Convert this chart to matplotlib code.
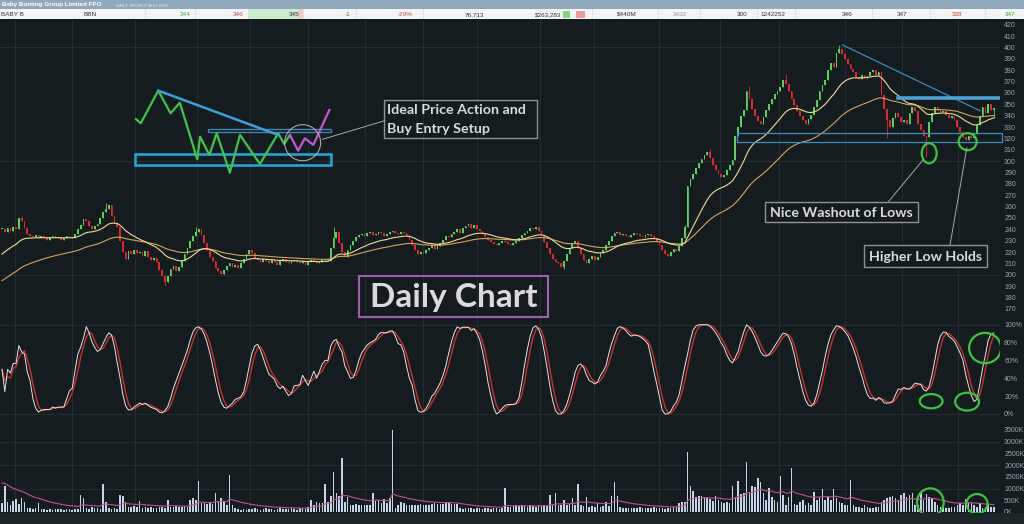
import numpy as np
import pandas as pd
import matplotlib
matplotlib.use("Agg")
import matplotlib.pyplot as plt
from matplotlib.patches import Rectangle, Ellipse

# ---------------- data ----------------
closes = [
    240, 238, 241, 239, 242, 240, 250, 247, 241, 236, 234,
    233, 235, 232, 234, 233, 231, 233, 234, 232, 233, 231, 232, 234, 233, 232,
    236, 240, 244, 249, 247,
    243, 240, 243, 245,
    250, 255, 258, 261,
    252, 246, 242,
    230, 220, 214,
    221, 218, 222, 219, 220, 217, 221,
    216, 213, 215, 211,
    204, 199, 194, 199,
    205, 208, 203, 207,
    212, 218, 224,
    230, 234, 238, 240,
    235, 228, 222, 216, 212,
    206, 203, 201, 204,
    208, 210, 207, 209, 206, 210,
    214, 218, 222, 219,
    215, 213, 211, 214, 212, 210, 213, 211, 209, 212, 214, 211, 210, 212,
    213, 211, 210, 212, 209, 211, 213, 212, 210, 211, 213, 214, 212,
    224, 232, 238,
    228, 220, 216, 222,
    226, 230, 233, 235,
    236, 234, 237, 238, 235, 236, 238, 237, 234, 236, 238, 239, 237, 236, 238, 237, 235,
    231, 226, 222, 218, 220, 219,
    222, 224, 226, 223, 225,
    228, 231, 234, 233, 236, 238, 240, 237, 241,
    243, 245, 241, 244, 240, 239,
    236, 233, 231, 229, 227, 226, 228, 230, 229, 227, 226, 228, 230,
    232, 235, 237, 239, 241, 240, 242, 239,
    235, 229, 224, 218, 214, 211, 210,
    207, 212,
    218, 224, 228, 230,
    224, 218, 213, 210,
    214, 217, 213, 216, 219,
    222, 226, 230, 234, 237,
    238, 235, 236, 234, 233, 235, 237, 236, 234, 233, 235, 236, 234, 232,
    229, 226, 222, 218, 217,
    220, 223, 221, 225,
    232, 242,
    278, 284,
    289, 294, 298,
    302, 305, 308, 303,
    297, 292, 289, 286, 288,
    292, 297, 301,
    322, 330,
    340, 345,
    362, 355,
    346, 340, 335, 333,
    339, 345,
    350, 355, 359, 362, 365,
    371, 368,
    362, 355, 349, 344, 340, 336, 333, 337,
    341, 348, 354,
    362, 367, 371,
    380, 386, 383,
    395, 399,
    394, 390, 385, 381,
    378, 374, 372, 376, 373,
    375, 378, 380, 376, 378,
    358, 346,
    336, 330,
    338, 342, 339,
    334, 336, 333,
    342, 348, 344,
    333, 327, 322,
    321,
    334, 342, 348,
    345, 343, 344,
    341, 338, 340, 336,
    330, 326, 321,
    319, 322, 320, 324,
    332, 340,
    348, 342, 350, 345, 347,
]
first_open = 240

volumes_k = [
    370, 1090, 420, 300, 480, 550, 350, 590, 440, 160,
    150, 130, 170, 400, 120, 110, 100, 140, 90, 120,
    110, 130, 95, 120, 140, 100, 110, 130, 730, 590,
    160, 140, 230, 150, 170, 130, 1190, 440, 160, 140,
    150, 130, 730, 690, 440, 230, 200, 250, 230, 490,
    180, 200, 160, 220, 190, 170, 230, 200, 180, 515,
    230, 210, 240, 220, 200, 250, 230, 515, 590, 520,
    1340, 370, 380, 350, 370, 360, 830, 440, 590, 440,
    300, 1570, 300, 150, 120, 100, 140, 90, 110, 130,
    150, 120, 100, 140, 160, 130, 110, 90, 120, 150,
    140, 110, 130, 160, 120, 100, 150, 170, 140, 230,
    515, 300, 440, 370, 400, 1200, 440, 690, 1720, 830,
    700, 2300, 440, 630, 300, 280, 320, 300, 290, 310,
    300, 280, 800, 490, 500, 370, 540, 400, 590, 3490,
    160, 300, 440, 370, 300, 280, 310, 290, 300, 320,
    280, 300, 310, 360, 370, 350, 330, 340, 440, 400,
    360, 340, 320, 160, 140, 170, 150, 160, 130, 150,
    160, 140, 170, 150, 130, 160, 150, 140, 180, 1015,
    200, 230, 250, 280, 240, 300, 260, 220, 290, 250,
    230, 280, 240, 300, 260, 730, 280, 800, 300, 290,
    515, 280, 320, 590, 300, 1200, 300, 250, 660, 230,
    250, 230, 400, 220, 260, 440, 260, 690, 1270, 690,
    200, 160, 180, 150, 170, 160, 190, 230, 160, 150,
    170, 160, 230, 180, 150, 160, 140, 170, 190, 230,
    210, 370, 440, 440, 2545, 1090, 915, 660, 690, 690,
    660, 600, 540, 480, 700, 500, 440, 370, 440, 370,
    1090, 660, 1340, 770, 800, 2145, 800, 1090, 1060, 1440,
    1260, 790, 515, 1015, 660, 520, 440, 1515, 730, 300,
    660, 1870, 340, 300, 440, 515, 300, 370, 300, 845,
    515, 590, 990, 515, 660, 520, 990, 590, 440, 370,
    300, 280, 1360, 300, 230, 200, 160, 300, 230, 180,
    160, 230, 200, 440, 520, 590, 660, 690, 590, 520,
    730, 800, 660, 730, 800, 300, 300, 870, 515, 770,
    660, 590, 440, 300, 230, 200, 160, 190, 230, 200,
    300, 370, 300, 560, 440, 400, 300, 230, 370, 160,
    230, 300, 200, 230,
]

wick_high_idx = [7, 37, 69, 118, 243, 252, 266, 279, 298, 353]
wick_high_val = [252, 263, 242, 242, 244, 311, 366, 377, 402, 347]
wick_low_idx = [58, 200, 244, 315, 329, 353]
wick_low_val = [190, 205, 268, 320, 304, 338]

month_pos = [4.6, 24.9, 47.3, 69.4, 88.3, 108.9, 129.2, 149.8, 169.0, 191.5,
             210.7, 233.8, 255.5, 276.5, 300.0, 320.3, 340.2]
month_labels = ["Sep", "Oct", "Nov", "Dec", "2019", "Feb", "Mar", "Apr", "May",
                "Jun", "Jul", "Aug", "Sep", "Oct", "Nov", "Dec", "2020"]

price_ticks = list(range(170, 421, 10))
price_grid = [200, 300, 400]
stoch_ticks = [0, 20, 40, 60, 80, 100]
vol_ticks = [0, 500, 1000, 1500, 2000, 2500, 3000, 3500]
vol_grid = [1000, 2000, 3000]

ma_fast_span, ma_fast_seed = 20, 216
ma_slow_span, ma_slow_seed = 50, 193
vol_ma_span, vol_ma_seed = 20, 1330
stoch_len, k_smooth, d_smooth = 14, 5, 3

header_title = "Baby Bunting Group Limited FPO"
header_sub = "DAILY, FROM 27 AUG 2018"
header_cells = ["BABY B", "BBN", "344", "346", "345", "-1", "-29%", "76,713", "$263,283",
                "$440M", "3432", "300", "1242252", "346", "347", "338", "347"]
header_cell_x = [1, 90, 185, 238, 294, 348, 405, 474, 548, 627, 680, 742, 773, 847, 902, 957, 1010]
header_cell_color = ["#333333", "#333333", "#4aa84a", "#b05050", "#333333", "#c05050", "#c05050",
                     "#333333", "#333333", "#333333", "#999999", "#333333", "#333333", "#333333",
                     "#333333", "#d04040", "#3aa83a"]

# annotation geometry (day index, price / % / K)
sketch_x = [47.7, 49.4, 55.6, 60.0, 63.3, 69.5, 70.5, 73.8, 76.4, 81.1, 84.7, 91.8, 98.3, 100.4, 102.5]
sketch_y = [336.8, 333.3, 362.0, 342.1, 351.4, 301.6, 321.5, 305.4, 324.5, 289.8, 323.0, 297.5, 324.5, 315.1, 323.0]
sketch_pink_x = [102.5, 105.4, 107.8, 110.8, 116.5]
sketch_pink_y = [323.0, 309.2, 320.1, 314.2, 345.0]

# ---------------- colours ----------------
BG = "#151c1f"
GRID = "#283034"
GREEN = "#5ccf5c"
RED = "#e3262b"
TXT = "#9aa4aa"
FAST = "#ecdc96"
SLOW = "#d2a45e"

# ---------------- computations ----------------
c = np.array(closes, float)
o = np.array([first_open] + closes[:-1], float)
n = len(c)
x = np.arange(n)
hi = np.maximum(o, c)
lo = np.minimum(o, c)
for i_, v in zip(wick_high_idx, wick_high_val):
    if i_ < n:
        hi[i_] = max(hi[i_], v)
for i_, v in zip(wick_low_idx, wick_low_val):
    if i_ < n:
        lo[i_] = min(lo[i_], v)

cs = pd.Series(c)
ma_fast = pd.Series([ma_fast_seed] + closes).ewm(span=ma_fast_span, adjust=False).mean().values[1:]
ma_slow = pd.Series([ma_slow_seed] + closes).ewm(span=ma_slow_span, adjust=False).mean().values[1:]
hh = pd.Series(hi).rolling(stoch_len, min_periods=1).max()
ll = pd.Series(lo).rolling(stoch_len, min_periods=1).min()
raw_k = 100 * (cs - ll) / (hh - ll).replace(0, np.nan)
raw_k = raw_k.fillna(50)
k_line = raw_k.rolling(k_smooth, min_periods=1).mean()
d_line = k_line.rolling(d_smooth, min_periods=1).mean()

vol = np.array(volumes_k, float)
xv = np.arange(len(vol))
vol_ma = pd.Series([vol_ma_seed] + volumes_k).ewm(span=vol_ma_span, adjust=False).mean().values[1:]

# ---------------- figure ----------------
W, H = 1024, 524
fig = plt.figure(figsize=(W / 100, H / 100), dpi=100)
fig.patch.set_facecolor(BG)
fig.patches.append(Rectangle((0, 0), 1, 11 / H, transform=fig.transFigure,
                             facecolor="#1e2528", edgecolor="none", zorder=0))

XL = (-0.71, 355.2)
ax_p = fig.add_axes([0, 204 / H, 1000 / W, 300 / H])
ax_s = fig.add_axes([0, 102 / H, 1000 / W, 102 / H])
ax_v = fig.add_axes([0, 11 / H, 1000 / W, 91 / H])

for ax in (ax_p, ax_s, ax_v):
    ax.set_facecolor(BG)
    ax.set_xlim(*XL)
    for s in ax.spines.values():
        s.set_visible(False)
    ax.yaxis.tick_right()
    ax.tick_params(axis="y", length=0, pad=3, labelsize=5, labelcolor=TXT)
    ax.tick_params(axis="x", length=0)
    for mp in month_pos:
        ax.axvline(mp, color=GRID, lw=0.6, zorder=0)

# ---- price panel ----
ax_p.set_ylim(160.3, 424.1)
ax_p.set_yticks(price_ticks)
ax_p.set_yticklabels([str(t) for t in price_ticks], fontfamily="Liberation Sans")
ax_p.set_xticks([])
for g in price_grid:
    ax_p.axhline(g, color=GRID, lw=0.6, zorder=0)

up = c >= o
body = np.maximum(np.abs(c - o), 0.9)
bottom = np.minimum(o, c)
ax_p.vlines(x[up], lo[up], hi[up], color=GREEN, lw=0.6, zorder=3)
ax_p.vlines(x[~up], lo[~up], hi[~up], color=RED, lw=0.6, zorder=3)
ax_p.bar(x[up], body[up], bottom=bottom[up], width=0.62, color=GREEN, zorder=3)
ax_p.bar(x[~up], body[~up], bottom=bottom[~up], width=0.62, color=RED, zorder=3)
ax_p.plot(x, ma_slow, color=SLOW, lw=0.8, zorder=4)
ax_p.plot(x, ma_fast, color=FAST, lw=0.8, zorder=4)

# idealised sketch
ax_p.plot(sketch_x, sketch_y, color="#3fc44a", lw=1.6, zorder=6)
ax_p.plot([55.6, 98.3], [362.0, 323.0], color="#3aa0e0", lw=1.8, zorder=6)
ax_p.add_patch(Rectangle((73.3, 325.6), 117.1 - 73.3, 2.6, fill=False,
                         edgecolor="#3d86b8", lw=1.0, zorder=5))
ax_p.add_patch(Rectangle((47.3, 296.6), 117.1 - 47.3, 306.3 - 296.6, fill=False,
                         edgecolor="#24a8e4", lw=1.8, zorder=5))
ax_p.plot(sketch_pink_x, sketch_pink_y, color="#c455d6", lw=1.6, zorder=7)
ax_p.add_patch(Ellipse((107.0, 316.2), 12.8, 31.7, fill=False, edgecolor="#b8b8b8", lw=0.7, zorder=7))
ax_p.plot([114.1, 136.3], [319.2, 335.6], color="#a8a8a8", lw=0.7, zorder=7)

ann_font = dict(family="Lato", weight="bold", color="#dadada")
ax_p.add_patch(Rectangle((135.9, 320.3), 190.4 - 135.9, 353.9 - 320.3, fill=False,
                         edgecolor="#8e9498", lw=1.0, zorder=7))
ax_p.text(137.2, 345.0, "Ideal Price Action and", fontsize=10.3, va="center", ha="left", zorder=8, **ann_font)
ax_p.text(137.2, 328.0, "Buy Entry Setup", fontsize=10.3, va="center", ha="left", zorder=8, **ann_font)

ax_p.add_patch(Rectangle((127.0, 162.8), 194.3 - 127.0, 199.0 - 162.8, fill=False,
                         edgecolor="#a35cb5", lw=1.5, zorder=7))
ax_p.text(160.7, 180.4, "Daily Chart", fontsize=24, va="center", ha="center", zorder=8, **ann_font)

# right side annotations
ax_p.plot([299.2, 348.0], [402.1, 344.4], color="#3a8fc0", lw=0.9, zorder=5)
ax_p.plot([318.9, 355.2], [355.5, 355.5], color="#4aa3d6", lw=2.6, zorder=5)
ax_p.add_patch(Rectangle((261.6, 316.6), 355.9 - 261.6, 324.5 - 316.6, fill=False,
                         edgecolor="#3a8fc0", lw=0.9, zorder=5, clip_on=False))
ax_p.add_patch(Ellipse((330.0, 306.9), 5.3, 17.6, fill=False, edgecolor="#3cc43c", lw=1.6, zorder=7))
ax_p.add_patch(Ellipse((343.7, 317.1), 6.4, 15.0, fill=False, edgecolor="#3cc43c", lw=1.6, zorder=7))
ax_p.plot([315.3, 327.8], [263.8, 301.0], color="#a8a8a8", lw=0.7, zorder=7)
ax_p.plot([337.4, 343.4], [226.1, 311.6], color="#a8a8a8", lw=0.7, zorder=7)
ax_p.add_patch(Rectangle((271.5, 246.3), 326.0 - 271.5, 263.8 - 246.3, facecolor=BG,
                         edgecolor="#8e9498", lw=1.0, zorder=7))
ax_p.text(298.8, 254.8, "Nice Washout of Lows", fontsize=10.2, va="center", ha="center", zorder=8, **ann_font)
ax_p.add_patch(Rectangle((306.8, 206.7), 350.5 - 306.8, 226.1 - 206.7, facecolor=BG,
                         edgecolor="#8e9498", lw=1.0, zorder=7))
ax_p.text(328.6, 216.1, "Higher Low Holds", fontsize=10.2, va="center", ha="center", zorder=8, **ann_font)

# ---- stochastic panel ----
ax_s.set_ylim(-9, 105.3)
ax_s.set_yticks(stoch_ticks)
ax_s.set_yticklabels([f"{t}%" for t in stoch_ticks], fontfamily="Liberation Sans")
ax_s.set_xticks([])
for g in (0, 100):
    ax_s.axhline(g, color=GRID, lw=0.6, zorder=0)
ax_s.plot(x, d_line, color="#c8302c", lw=1.0, zorder=3)
ax_s.plot(x, k_line, color="#e4e4e4", lw=0.7, zorder=4)
for (cx, cy, ew, eh) in [(330.7, 14.3, 8.1, 16.0), (343.5, 13.8, 8.5, 20.0), (349.9, 73.9, 11.4, 34.0)]:
    ax_s.add_patch(Ellipse((cx, cy), ew, eh, fill=False, edgecolor="#3cc43c", lw=1.6, zorder=6))

# ---- volume panel ----
ax_v.set_ylim(-43, 3841)
ax_v.set_yticks(vol_ticks)
ax_v.set_yticklabels([f"{t}K" for t in vol_ticks], fontfamily="Liberation Sans")
for g in vol_grid:
    ax_v.axhline(g, color=GRID, lw=0.6, zorder=0)
ax_v.bar(xv, vol, width=0.55, color="#c3d5e6", zorder=3)
ax_v.plot(xv, vol_ma, color="#c4508c", lw=0.8, zorder=4)
for (cx, cy, ew, eh) in [(330.4, 418, 9.5, 1182), (347.0, 354, 7.5, 824)]:
    ax_v.add_patch(Ellipse((cx, cy), ew, eh, fill=False, edgecolor="#3cc43c", lw=1.6, zorder=6))
ax_v.set_xticks(month_pos)
ax_v.set_xticklabels(month_labels, fontsize=5.5, color=TXT, ha="left", fontfamily="Liberation Sans")
ax_v.tick_params(axis="x", pad=1)

# ---- header ----
ax_h = fig.add_axes([0, 1 - 19 / H, 1, 19 / H])
ax_h.set_xlim(0, W)
ax_h.set_ylim(19, 0)
ax_h.axis("off")
ax_h.add_patch(Rectangle((0, 0), W, 9.3, facecolor="#8ea8be", edgecolor="none"))
ax_h.add_patch(Rectangle((0, 9.3), W, 9.7, facecolor="#f4f4f4", edgecolor="none"))
ax_h.add_patch(Rectangle((248, 9.3), 50, 9.7, facecolor="#c9eec9", edgecolor="none"))
ax_h.add_patch(Rectangle((298, 9.3), 5, 9.7, facecolor="#f3c9c9", edgecolor="none"))
ax_h.add_patch(Rectangle((563, 10.5), 7, 7, facecolor="#7fd87f", edgecolor="none"))
ax_h.add_patch(Rectangle((576, 10.5), 9, 7, facecolor="#ec9a9a", edgecolor="none"))
for sx in [145, 195, 248, 303, 356, 423, 476, 592, 658, 700, 757, 795, 872, 930, 985]:
    ax_h.plot([sx, sx], [9.3, 19], color="#dddddd", lw=0.5)
ax_h.text(2, 4.9, header_title, fontsize=4.5, color="white", weight="bold", va="center", ha="left",
          family="Liberation Sans")
ax_h.text(116, 5.2, header_sub, fontsize=3.0, color="#eef2f6", va="center", ha="left",
          family="Liberation Sans")
for lab, hx, col in zip(header_cells, header_cell_x, header_cell_color):
    ax_h.text(hx, 14.3, lab, fontsize=4.6, color=col, va="center",
              ha="left" if hx < 5 else "center", family="Liberation Sans")

fig.savefig("out.png", dpi=100, facecolor=BG)
